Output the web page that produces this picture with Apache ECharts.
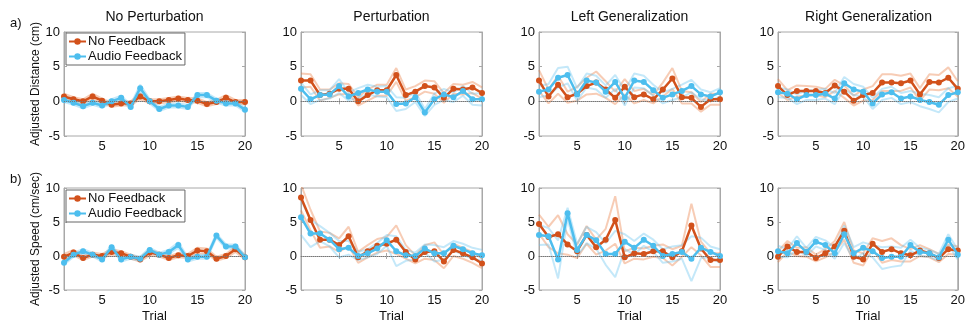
<!DOCTYPE html>
<html>
<head>
<meta charset="utf-8">
<script src="https://cdn.jsdelivr.net/npm/echarts@6/dist/echarts.min.js"></script>
<style>
  html, body { margin: 0; background: #fff; }
  #main { width: 968px; height: 324px; }
</style>
</head>
<body>
<div id="main"></div>
<script>
const trials = [1, 2, 3, 4, 5, 6, 7, 8, 9, 10, 11, 12, 13, 14, 15, 16, 17, 18, 19, 20];
const panelTitles = ['No Perturbation', 'Perturbation', 'Left Generalization', 'Right Generalization'];
const xTicks = [5, 10, 15, 20];

// a) adjusted distance, mean and SE per condition
const distNoPertNoFb = [0.7, 0.3, 0, 0.7, 0.1, -0.5, -0.3, -0.3, 0.7, 0, 0, 0.2, 0.4, 0.2, 0.1, -0.4, -0.1, 0.5, -0.1, -0.1];
const distNoPertNoFbSe = [0.4, 0.3, 0.3, 0.4, 0.3, 0.3, 0.3, 0.3, 0.4, 0.3, 0.3, 0.3, 0.3, 0.3, 0.3, 0.3, 0.3, 0.4, 0.3, 0.3];
const distNoPertAudio = [0.2, -0.2, -0.7, -0.2, -0.6, 0, 0.5, -0.8, 1.9, 0, -1.1, -0.6, -0.6, -0.8, 0.9, 0.9, 0.1, -0.3, -0.3, -1.2];
const distNoPertAudioSe = [0.3, 0.3, 0.3, 0.3, 0.3, 0.3, 0.3, 0.3, 0.5, 0.3, 0.3, 0.3, 0.3, 0.3, 0.3, 0.3, 0.3, 0.3, 0.3, 0.3];

const distPertNoFb = [3.0, 3.0, 0.9, 1.1, 1.8, 1.8, 0, 0.9, 1.6, 1.6, 3.8, 0.9, 1.4, 2.2, 2.0, 0.5, 1.8, 1.7, 2.0, 1.2];
const distPertNoFbSe = [1.0, 0.9, 0.8, 0.6, 0.8, 0.7, 0.6, 0.8, 0.8, 0.8, 1.0, 0.8, 0.8, 0.8, 0.9, 0.7, 0.7, 0.7, 0.8, 0.8];
const distPertAudio = [1.8, 0.3, 0.9, 1.0, 2.2, 0.7, 1.2, 1.7, 1.4, 1.4, -0.4, -0.3, 0.6, -1.6, 0.3, 1.0, 0.6, 1.5, 0.3, 0.3];
const distPertAudioSe = [0.9, 0.7, 0.7, 0.6, 1.0, 0.6, 0.7, 0.7, 0.7, 0.8, 1.0, 0.8, 0.7, 0.5, 0.8, 0.8, 0.7, 0.7, 0.8, 0.9];

const distLeftNoFb = [3.0, 0.7, 2.4, 0.6, 1.1, 2.2, 2.7, 1.7, 0.5, 2.1, 0.6, 1.0, 0.3, 1.7, 3.3, 0.6, 0.5, -0.8, 0.3, 0.3];
const distLeftNoFbSe = [1.5, 1.0, 1.3, 0.8, 1.0, 1.2, 1.6, 1.2, 0.9, 1.1, 0.9, 0.8, 0.6, 1.0, 1.5, 0.9, 0.8, 0.7, 0.8, 0.8];
const distLeftAudio = [1.4, 1.7, 3.4, 3.8, 1.0, 3.0, 2.7, 1.4, 2.8, 0.5, 3.0, 2.8, 1.6, 0.5, 1.0, 1.5, 2.2, 1.0, 0.7, 1.3];
const distLeftAudioSe = [0.8, 0.8, 1.4, 1.2, 0.9, 1.0, 1.0, 0.9, 1.0, 1.1, 1.0, 0.9, 0.8, 0.8, 0.8, 0.9, 0.9, 0.7, 0.6, 0.6];

const distRightNoFb = [2.2, 0.9, 1.5, 1.5, 1.5, 1.2, 2.3, 1.4, 0.1, 0.9, 1.2, 2.7, 2.7, 2.6, 3.0, 1.0, 2.8, 2.7, 3.4, 1.8];
const distRightNoFbSe = [1.0, 0.7, 0.8, 0.7, 0.6, 0.6, 0.8, 0.9, 0.7, 0.8, 1.0, 1.2, 1.2, 1.1, 1.0, 0.9, 1.1, 1.1, 1.5, 1.1];
const distRightAudio = [1.3, 1.1, 0.3, 0.9, 0.9, 1.1, 0.4, 2.6, 1.7, 1.4, -0.3, 1.0, 1.3, 0.4, 0.7, 0.2, -0.1, -0.5, 0.9, 1.3];
const distRightAudioSe = [0.7, 0.6, 0.7, 0.7, 0.7, 0.7, 0.8, 0.9, 0.8, 0.7, 0.8, 0.8, 0.8, 0.8, 0.8, 0.9, 1.0, 1.1, 1.0, 0.9];

// b) adjusted speed, mean and SE per condition
const speedNoPertNoFb = [-0.1, 0.5, -0.3, 0.2, 0, 0.6, 0.4, -0.1, -0.5, 0.5, 0.2, -0.3, 0.1, 0, 0.8, 0.7, -0.4, 0, 1.0, -0.2];
const speedNoPertNoFbSe = [0.4, 0.4, 0.3, 0.3, 0.3, 0.4, 0.3, 0.3, 0.3, 0.4, 0.3, 0.3, 0.3, 0.3, 0.4, 0.4, 0.3, 0.3, 0.4, 0.3];
const speedNoPertAudio = [-1.0, 0.2, 0.7, 0.2, -0.5, 1.3, -0.5, -0.1, -0.4, 0.9, 0.2, 0.6, 1.6, -0.5, -0.1, -0.1, 3.0, 1.4, 1.4, -0.2];
const speedNoPertAudioSe = [0.3, 0.3, 0.3, 0.3, 0.3, 0.3, 0.3, 0.3, 0.3, 0.3, 0.3, 0.3, 0.4, 0.3, 0.3, 0.3, 0.3, 0.3, 0.3, 0.3];

const speedPertNoFb = [8.6, 5.3, 2.4, 2.4, 1.6, 2.9, -0.2, 0.7, 1.5, 1.8, 2.4, 0.6, -0.5, 0.6, 0.7, -0.8, 0.9, 0.4, -0.2, -1.1];
const speedPertNoFbSe = [1.9, 1.5, 1.2, 1.0, 1.0, 1.4, 0.8, 0.9, 1.0, 1.0, 2.1, 1.0, 0.6, 1.0, 1.3, 1.0, 0.9, 0.8, 0.8, 0.7];
const speedPertAudio = [5.7, 3.3, 3.3, 2.4, 1.0, 1.2, 0, 0.4, 1.1, 2.3, 0.7, 0.1, 0, 1.1, 0.4, 0.4, 1.5, 1.0, 0.4, 0.1];
const speedPertAudioSe = [2.6, 2.0, 1.1, 1.0, 1.2, 1.0, 0.6, 0.6, 0.8, 0.8, 2.2, 0.8, 0.5, 0.6, 1.2, 0.9, 0.7, 0.8, 0.8, 0.8];

const speedLeftNoFb = [4.7, 2.8, 3.2, 1.7, 0.7, 3.1, 1.3, 2.4, 5.3, -0.2, 0.4, 0.3, 0.7, 0.7, -0.2, 0.7, 4.5, 1.1, -0.6, -0.6];
const speedLeftNoFbSe = [1.4, 1.5, 2.8, 1.5, 1.0, 1.3, 1.1, 1.6, 3.5, 0.9, 0.8, 0.8, 0.8, 1.0, 1.2, 0.8, 3.2, 1.0, 1.0, 1.0];
const speedLeftAudio = [3.1, 2.9, -0.5, 6.3, 0.9, 3.1, 2.3, 0.3, 0.3, 2.1, 1.2, 2.4, 1.5, 0, 0.3, 0.6, -0.4, 1.2, 0.6, 0];
const speedLeftAudioSe = [1.5, 1.2, 2.8, 0.8, 0.9, 1.2, 1.2, 1.6, 3.4, 1.1, 1.0, 0.9, 0.9, 1.0, 1.1, 1.0, 3.3, 1.5, 0.8, 1.0];

const speedRightNoFb = [-0.1, 1.4, 0.6, 0.6, -0.3, 0.4, 1.4, 3.7, -0.1, -0.5, 1.8, 0.6, 1.0, 0.4, 0.1, 0.8, 0.4, -0.3, 1.0, 0.8];
const speedRightNoFbSe = [0.8, 0.8, 0.6, 0.7, 0.5, 0.6, 0.8, 1.3, 0.9, 0.9, 0.8, 1.6, 1.6, 1.2, 0.9, 0.8, 0.6, 0.6, 0.7, 0.6];
const speedRightAudio = [0.7, 0.4, 1.9, 0.6, 2.1, 1.6, 0.4, 3.2, 0.4, 1.2, 0.7, -0.3, -0.1, -0.1, 1.6, 0.6, 0.4, -0.2, 2.4, 0.2];
const speedRightAudioSe = [0.8, 0.6, 1.0, 0.6, 0.7, 0.7, 0.8, 1.3, 0.9, 0.8, 0.9, 1.6, 1.5, 1.3, 0.8, 0.6, 0.5, 0.5, 0.8, 0.7];

const panels = [
  [distNoPertNoFb, distNoPertNoFbSe, distNoPertAudio, distNoPertAudioSe],
  [distPertNoFb, distPertNoFbSe, distPertAudio, distPertAudioSe],
  [distLeftNoFb, distLeftNoFbSe, distLeftAudio, distLeftAudioSe],
  [distRightNoFb, distRightNoFbSe, distRightAudio, distRightAudioSe],
  [speedNoPertNoFb, speedNoPertNoFbSe, speedNoPertAudio, speedNoPertAudioSe],
  [speedPertNoFb, speedPertNoFbSe, speedPertAudio, speedPertAudioSe],
  [speedLeftNoFb, speedLeftNoFbSe, speedLeftAudio, speedLeftAudioSe],
  [speedRightNoFb, speedRightNoFbSe, speedRightAudio, speedRightAudioSe]
];

const orange = '#D2511B';
const blue = '#4DBEEE';
const orangeLight = 'rgba(235,120,60,0.38)';
const blueLight = 'rgba(100,195,240,0.38)';
const boxColor = '#a8a8a8';
const font = 'Liberation Sans, Arial, sans-serif';

const colLeft = [64, 301, 539, 778];
const rowTop = [32, 188];
const plotW = 181;
const plotH = [104, 105];

const chart = echarts.init(document.getElementById('main'), null, { renderer: 'canvas' });

const grid = [], xAxis = [], yAxis = [], series = [];

panels.forEach(function (p, i) {
  const row = Math.floor(i / 4), col = i % 4;
  grid.push({ left: colLeft[col], top: rowTop[row], width: plotW, height: plotH[row],
    show: true, borderColor: boxColor, borderWidth: 1, containLabel: false });

  const tick = { show: true, inside: true, length: 3, lineStyle: { color: boxColor } };
  xAxis.push({
    type: 'value', gridIndex: i, min: 1, max: 20,
    axisLine: { show: true, lineStyle: { color: boxColor } },
    axisTick: Object.assign({ customValues: xTicks }, tick),
    axisLabel: { customValues: xTicks, color: '#111', fontSize: 13, fontFamily: font, margin: 4 },
    splitLine: { show: false },
    name: row === 1 ? 'Trial' : '', nameLocation: 'middle', nameGap: 20,
    nameTextStyle: { color: '#111', fontSize: 13, fontFamily: font }
  });
  xAxis.push({
    type: 'value', gridIndex: i, min: 1, max: 20, position: 'top',
    axisLine: { show: true, lineStyle: { color: boxColor } },
    axisTick: Object.assign({ customValues: xTicks }, tick),
    axisLabel: { show: false }, splitLine: { show: false }
  });
  yAxis.push({
    type: 'value', gridIndex: i, min: -5, max: 10, interval: 5,
    axisLine: { show: true, lineStyle: { color: boxColor } },
    axisTick: tick,
    axisLabel: { color: '#111', fontSize: 13, fontFamily: font, margin: 4 },
    splitLine: { show: false },
    name: col === 0 ? (row === 0 ? 'Adjusted Distance (cm)' : 'Adjusted Speed (cm/sec)') : '',
    nameLocation: 'middle', nameGap: 22, nameRotate: 90,
    nameTextStyle: { color: '#111', fontSize: 12, fontFamily: font }
  });
  yAxis.push({
    type: 'value', gridIndex: i, min: -5, max: 10, interval: 5, position: 'right',
    axisLine: { show: true, lineStyle: { color: boxColor } },
    axisTick: tick, axisLabel: { show: false }, splitLine: { show: false }
  });

  const xi = 2 * i, yi = 2 * i;
  const pair = (vals) => trials.map((t, k) => [t, vals[k]]);
  const band = (mean, se, sign, color) => ({
    type: 'line', xAxisIndex: xi, yAxisIndex: yi, silent: true, showSymbol: false,
    data: trials.map((t, k) => [t, mean[k] + sign * se[k]]),
    lineStyle: { color: color, width: 2 }, z: 1, animation: false
  });
  series.push(band(p[0], p[1], 1, orangeLight));
  series.push(band(p[0], p[1], -1, orangeLight));
  series.push(band(p[2], p[3], 1, blueLight));
  series.push(band(p[2], p[3], -1, blueLight));

  series.push({
    name: 'No Feedback', type: 'line', xAxisIndex: xi, yAxisIndex: yi,
    data: pair(p[0]), symbol: 'circle', symbolSize: 6, color: orange,
    lineStyle: { color: orange, width: 2.5 }, z: 3, animation: false,
    markLine: {
      silent: true, symbol: 'none', label: { show: false }, animation: false,
      lineStyle: { color: '#777', type: 'dotted', width: 1 },
      data: [{ yAxis: 0 }]
    }
  });
  series.push({
    name: 'Audio Feedback', type: 'line', xAxisIndex: xi, yAxisIndex: yi,
    data: pair(p[2]), symbol: 'circle', symbolSize: 6, color: blue,
    lineStyle: { color: blue, width: 2.5 }, z: 4, animation: false
  });
});

const legendBase = {
  orient: 'vertical', left: 66, itemWidth: 17, itemHeight: 8, itemGap: 2,
  padding: [2, 3, 2, 2], backgroundColor: '#fff', borderColor: '#666', borderWidth: 1,
  borderRadius: 0, textStyle: { color: '#111', fontSize: 13, fontFamily: font, padding: [0, 0, 0, -3] },
  data: ['No Feedback', 'Audio Feedback'], selectedMode: false
};

const graphic = panelTitles.map((t, c) => ({
  type: 'text', x: colLeft[c] + plotW / 2, y: 10,
  style: { text: t, fontSize: 14, fontFamily: font, fill: '#111', align: 'center', textAlign: 'center' }
}));
graphic.push({ type: 'text', x: 10, y: 17, style: { text: 'a)', fontSize: 13, fontFamily: font, fill: '#111' } });
graphic.push({ type: 'text', x: 10, y: 173, style: { text: 'b)', fontSize: 13, fontFamily: font, fill: '#111' } });

chart.setOption({
  animation: false,
  backgroundColor: '#fff',
  grid: grid, xAxis: xAxis, yAxis: yAxis, series: series,
  legend: [Object.assign({ top: 33 }, legendBase), Object.assign({ top: 190 }, legendBase)],
  graphic: graphic
});
</script>
</body>
</html>
